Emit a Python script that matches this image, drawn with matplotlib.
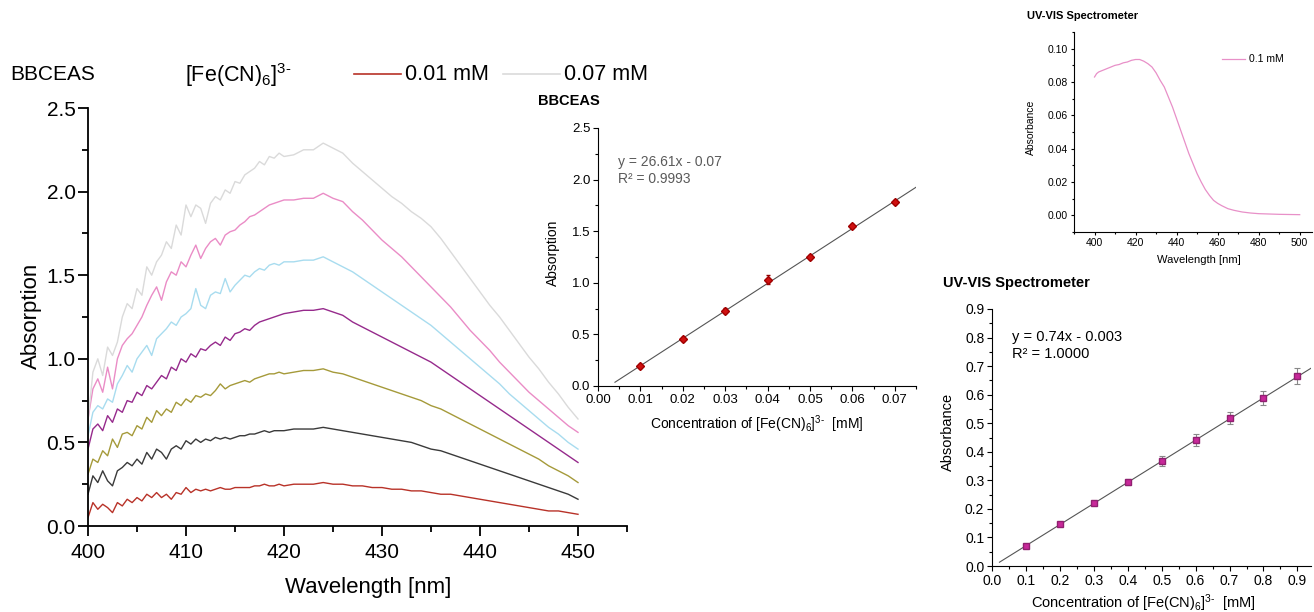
import numpy as np
import matplotlib
matplotlib.use("Agg")
import matplotlib.pyplot as plt
from matplotlib.lines import Line2D
from matplotlib.ticker import MultipleLocator, FormatStrFormatter
from matplotlib.transforms import Bbox

plt.rcParams['font.family'] = ['Liberation Sans', 'DejaVu Sans']
plt.rcParams['mathtext.fontset'] = 'custom'
plt.rcParams['mathtext.rm'] = 'Liberation Sans'
plt.rcParams['mathtext.it'] = 'Liberation Sans:italic'
plt.rcParams['mathtext.bf'] = 'Liberation Sans:bold'

# ---------------- data ----------------
wl_fine = [400.0 + 0.5 * i for i in range(41)]
wl_coarse = [421 + i for i in range(30)]
wavelength = np.array(wl_fine + wl_coarse)

abs_001 = [0.05, 0.14, 0.10, 0.13, 0.11, 0.08, 0.14, 0.12, 0.16, 0.14, 0.17, 0.15, 0.19, 0.17, 0.20, 0.17, 0.19, 0.16, 0.20, 0.19,
           0.23, 0.20, 0.22, 0.21, 0.22, 0.21, 0.22, 0.23, 0.22, 0.22, 0.23, 0.23, 0.23, 0.23, 0.24, 0.24, 0.25, 0.24, 0.24, 0.25, 0.24,
           0.25, 0.25, 0.25, 0.26, 0.25, 0.25, 0.24, 0.24, 0.23, 0.23, 0.22, 0.22, 0.21, 0.21, 0.20, 0.19, 0.19, 0.18, 0.17, 0.16,
           0.15, 0.14, 0.13, 0.12, 0.11, 0.10, 0.09, 0.09, 0.08, 0.07]
abs_002 = [0.19, 0.30, 0.26, 0.33, 0.27, 0.24, 0.33, 0.35, 0.38, 0.36, 0.40, 0.37, 0.44, 0.40, 0.46, 0.44, 0.40, 0.46, 0.48, 0.46,
           0.51, 0.49, 0.52, 0.50, 0.52, 0.51, 0.53, 0.52, 0.53, 0.52, 0.53, 0.54, 0.54, 0.55, 0.55, 0.56, 0.57, 0.56, 0.57, 0.57, 0.57,
           0.58, 0.58, 0.58, 0.59, 0.58, 0.57, 0.56, 0.55, 0.54, 0.53, 0.52, 0.51, 0.50, 0.48, 0.46, 0.45, 0.43, 0.41, 0.39, 0.37,
           0.35, 0.33, 0.31, 0.29, 0.27, 0.25, 0.23, 0.21, 0.19, 0.16]
abs_003 = [0.31, 0.40, 0.38, 0.45, 0.42, 0.52, 0.47, 0.55, 0.56, 0.54, 0.60, 0.58, 0.65, 0.62, 0.69, 0.66, 0.70, 0.68, 0.74, 0.72,
           0.76, 0.74, 0.78, 0.77, 0.79, 0.78, 0.81, 0.85, 0.82, 0.84, 0.85, 0.86, 0.87, 0.86, 0.88, 0.89, 0.90, 0.91, 0.91, 0.92, 0.91,
           0.92, 0.93, 0.93, 0.94, 0.92, 0.91, 0.89, 0.87, 0.85, 0.83, 0.81, 0.79, 0.77, 0.75, 0.72, 0.70, 0.67, 0.64, 0.61, 0.58,
           0.55, 0.52, 0.49, 0.46, 0.43, 0.40, 0.36, 0.33, 0.30, 0.26]
abs_004 = [0.46, 0.58, 0.61, 0.57, 0.66, 0.62, 0.70, 0.68, 0.75, 0.74, 0.80, 0.78, 0.84, 0.82, 0.86, 0.90, 0.88, 0.95, 0.93, 1.00,
           0.98, 1.03, 1.01, 1.06, 1.05, 1.08, 1.10, 1.08, 1.13, 1.11, 1.15, 1.16, 1.18, 1.17, 1.20, 1.22, 1.23, 1.24, 1.25, 1.26, 1.27,
           1.28, 1.29, 1.29, 1.30, 1.28, 1.26, 1.22, 1.19, 1.16, 1.13, 1.10, 1.07, 1.04, 1.01, 0.98, 0.94, 0.90, 0.86, 0.82, 0.78,
           0.74, 0.70, 0.66, 0.62, 0.58, 0.54, 0.50, 0.46, 0.42, 0.38]
abs_005 = [0.54, 0.68, 0.72, 0.70, 0.76, 0.74, 0.85, 0.90, 0.96, 0.92, 1.00, 1.04, 1.08, 1.02, 1.12, 1.15, 1.18, 1.22, 1.20, 1.25,
           1.27, 1.30, 1.42, 1.32, 1.30, 1.38, 1.40, 1.39, 1.48, 1.40, 1.44, 1.47, 1.50, 1.49, 1.52, 1.54, 1.53, 1.56, 1.57, 1.56, 1.58,
           1.58, 1.59, 1.59, 1.61, 1.58, 1.55, 1.52, 1.48, 1.44, 1.40, 1.36, 1.32, 1.28, 1.24, 1.20, 1.15, 1.10, 1.05, 1.00, 0.95,
           0.90, 0.85, 0.79, 0.74, 0.69, 0.64, 0.59, 0.55, 0.50, 0.46]
abs_006 = [0.64, 0.82, 0.88, 0.80, 0.95, 0.82, 1.00, 1.08, 1.12, 1.15, 1.20, 1.25, 1.32, 1.38, 1.43, 1.35, 1.46, 1.52, 1.50, 1.58,
           1.55, 1.62, 1.68, 1.60, 1.66, 1.70, 1.72, 1.68, 1.74, 1.76, 1.77, 1.80, 1.82, 1.85, 1.86, 1.88, 1.90, 1.92, 1.93, 1.94, 1.95,
           1.95, 1.96, 1.96, 1.99, 1.96, 1.94, 1.88, 1.83, 1.77, 1.71, 1.66, 1.61, 1.55, 1.49, 1.43, 1.37, 1.31, 1.24, 1.17, 1.11,
           1.05, 0.98, 0.92, 0.86, 0.80, 0.75, 0.70, 0.65, 0.60, 0.56]
abs_007 = [0.63, 0.92, 1.00, 0.90, 1.07, 1.02, 1.10, 1.25, 1.33, 1.30, 1.42, 1.38, 1.55, 1.50, 1.58, 1.62, 1.70, 1.66, 1.80, 1.74,
           1.92, 1.85, 1.92, 1.90, 1.81, 1.93, 1.97, 1.95, 2.01, 1.99, 2.06, 2.05, 2.10, 2.12, 2.14, 2.18, 2.16, 2.21, 2.20, 2.23, 2.21,
           2.22, 2.25, 2.25, 2.29, 2.26, 2.23, 2.17, 2.12, 2.07, 2.02, 1.97, 1.93, 1.88, 1.84, 1.79, 1.72, 1.64, 1.56, 1.48, 1.40,
           1.32, 1.25, 1.17, 1.09, 1.01, 0.94, 0.86, 0.79, 0.71, 0.64]

series = [abs_001, abs_002, abs_003, abs_004, abs_005, abs_006, abs_007]
series_colors = ['#b83228', '#3a3a3a', '#a59a3a', '#962a8c', '#a8dcef', '#ea8cc6', '#dadada']

bb_conc = [0.01, 0.02, 0.03, 0.04, 0.05, 0.06, 0.07]
bb_abs = [0.194, 0.456, 0.731, 1.029, 1.249, 1.547, 1.783]
bb_err = [0.02, 0.02, 0.02, 0.045, 0.02, 0.02, 0.02]
bb_slope, bb_icpt = 26.61, -0.07
bb_fit_x = [0.004, 0.0755]

uv_wl = [400, 401, 402, 404, 406, 408, 410, 412, 414, 416, 418, 420, 422, 424, 426, 428, 430, 432, 434, 436, 438, 440,
         442, 444, 446, 448, 450, 452, 454, 456, 458, 460, 462, 465, 468, 472, 476, 480, 485, 490, 495, 500]
uv_abs = [0.083, 0.085, 0.086, 0.087, 0.088, 0.089, 0.090, 0.0905, 0.0915, 0.092, 0.093, 0.0935, 0.0935, 0.0925, 0.091,
          0.089, 0.0855, 0.081, 0.077, 0.071, 0.065, 0.058, 0.051, 0.044, 0.037, 0.031, 0.025, 0.020, 0.0155, 0.012, 0.009,
          0.0072, 0.0058, 0.004, 0.003, 0.002, 0.0014, 0.001, 0.0008, 0.0006, 0.0005, 0.0004]

uv_conc = [0.1, 0.2, 0.3, 0.4, 0.5, 0.6, 0.7, 0.8, 0.9]
uv_absb = [0.071, 0.146, 0.219, 0.294, 0.367, 0.441, 0.517, 0.588, 0.665]
uv_err = [0.0025, 0.0035, 0.006, 0.0105, 0.0175, 0.02, 0.021, 0.0245, 0.027]
uv_slope, uv_icpt = 0.74, -0.003
uv_fit_x = [0.022, 0.94]

# ---------------- figure ----------------
W, H = 1314, 612
fig = plt.figure(figsize=(W / 100, H / 100), dpi=100)


def rect(l, t, r, b):
    return [l / W, 1 - b / H, (r - l) / W, (b - t) / H]


def fx(x):
    return x / W


def fy(y):
    return 1 - y / H


def style(ax, size, major, minor, width=1.0):
    for s in ['top', 'right']:
        ax.spines[s].set_visible(False)
    for s in ['left', 'bottom']:
        ax.spines[s].set_linewidth(width)
    ax.tick_params(which='major', direction='out', length=major, width=width, labelsize=size, pad=2)
    ax.tick_params(which='minor', direction='out', length=minor, width=width)


# main spectra panel
ax = fig.add_axes(rect(88, 108, 627, 526))
for y, c in zip(series, series_colors):
    ax.plot(wavelength, y, color=c, lw=1.0)
ax.set_xlim(400, 455)
ax.set_ylim(0, 2.5)
ax.xaxis.set_major_locator(MultipleLocator(10))
ax.xaxis.set_minor_locator(MultipleLocator(5))
ax.yaxis.set_major_locator(MultipleLocator(0.5))
ax.yaxis.set_minor_locator(MultipleLocator(0.25))
ax.yaxis.set_major_formatter(FormatStrFormatter('%.1f'))
style(ax, 15, 7, 4, 1.3)
ax.tick_params(axis='x', pad=5)
fig.text(fx(368), fy(587), 'Wavelength [nm]', fontsize=16, ha='center', va='center')
fig.text(fx(31), fy(316), 'Absorption', fontsize=16, ha='center', va='center', rotation=90)

# header / legend
fig.text(fx(10), fy(75), 'BBCEAS', fontsize=15, ha='left', va='center')
fig.text(fx(185), fy(75), r'[Fe(CN)$_6$]$^{3\text{-}}$', fontsize=15.5, ha='left', va='center')
fig.add_artist(Line2D([fx(354), fx(401)], [fy(74), fy(74)], color=series_colors[0], lw=1.2))
fig.text(fx(405), fy(75), '0.01 mM', fontsize=15.5, ha='left', va='center')
fig.add_artist(Line2D([fx(503), fx(560)], [fy(74), fy(74)], color=series_colors[-1], lw=1.2))
t = fig.text(fx(564), fy(75), '0.07 mM', fontsize=15.5, ha='left', va='center')
t.set_clip_box(Bbox([[0, 0], [650, H]]))
t.set_clip_on(True)

# BBCEAS calibration inset
ax2 = fig.add_axes(rect(598, 128, 916, 386))
ax2.plot(bb_fit_x, [bb_slope * v + bb_icpt for v in bb_fit_x], color='#555555', lw=0.8)
ax2.errorbar(bb_conc, bb_abs, yerr=bb_err, fmt='D', color='#d01010', ms=4.5, mec='#a00000',
             ecolor='#900000', elinewidth=0.8, capsize=1.5)
ax2.set_xlim(0, 0.075)
ax2.set_ylim(0, 2.5)
ax2.xaxis.set_major_locator(MultipleLocator(0.01))
ax2.xaxis.set_minor_locator(MultipleLocator(0.005))
ax2.yaxis.set_major_locator(MultipleLocator(0.5))
ax2.yaxis.set_minor_locator(MultipleLocator(0.25))
ax2.xaxis.set_major_formatter(FormatStrFormatter('%.2f'))
ax2.yaxis.set_major_formatter(FormatStrFormatter('%.1f'))
style(ax2, 9.5, 3.5, 2, 0.8)
fig.text(fx(538), fy(101), 'BBCEAS', fontsize=10.5, fontweight='bold', ha='left', va='center')
fig.text(fx(618), fy(162), 'y = 26.61x - 0.07', fontsize=10, color='#5a5a5a', ha='left', va='center')
fig.text(fx(618), fy(179), 'R² = 0.9993', fontsize=10, color='#5a5a5a', ha='left', va='center')
fig.text(fx(553), fy(253), 'Absorption', fontsize=10, ha='center', va='center', rotation=90)
fig.text(fx(757), fy(424), r'Concentration of [Fe(CN)$_6$]$^{3\text{-}}$  [mM]', fontsize=10, ha='center', va='center')

# UV-VIS spectrum
ax3 = fig.add_axes(rect(1074, 32, 1312, 232))
ax3.plot(uv_wl, uv_abs, color='#e890c8', lw=0.9)
ax3.set_xlim(390, 506)
ax3.set_ylim(-0.01, 0.11)
ax3.xaxis.set_major_locator(MultipleLocator(20))
ax3.xaxis.set_minor_locator(MultipleLocator(10))
ax3.yaxis.set_major_locator(MultipleLocator(0.02))
ax3.yaxis.set_minor_locator(MultipleLocator(0.01))
ax3.yaxis.set_major_formatter(FormatStrFormatter('%.2f'))
style(ax3, 7.5, 2.5, 1.5, 0.8)
fig.add_artist(Line2D([fx(1222), fx(1245)], [fy(59), fy(59)], color='#e890c8', lw=0.9))
fig.text(fx(1249), fy(59), '0.1 mM', fontsize=7.5, ha='left', va='center')
fig.text(fx(1027), fy(16), 'UV-VIS Spectrometer', fontsize=8, fontweight='bold', ha='left', va='center')
fig.text(fx(1031), fy(127), 'Absorbance', fontsize=7.5, ha='center', va='center', rotation=90)
fig.text(fx(1199), fy(260), 'Wavelength [nm]', fontsize=8, ha='center', va='center')

# UV-VIS calibration
ax4 = fig.add_axes(rect(992, 309, 1311, 566))
ax4.plot(uv_fit_x, [uv_slope * v + uv_icpt for v in uv_fit_x], color='#555555', lw=0.8)
ax4.errorbar(uv_conc, uv_absb, yerr=uv_err, fmt='s', color='#c8289a', ms=4, mec='#902070',
             ecolor='#888888', elinewidth=0.8, capsize=2.5, capthick=0.8)
ax4.set_xlim(0, 0.94)
ax4.set_ylim(0, 0.9)
ax4.xaxis.set_major_locator(MultipleLocator(0.1))
ax4.xaxis.set_minor_locator(MultipleLocator(0.05))
ax4.yaxis.set_major_locator(MultipleLocator(0.1))
ax4.yaxis.set_minor_locator(MultipleLocator(0.05))
ax4.xaxis.set_major_formatter(FormatStrFormatter('%.1f'))
ax4.yaxis.set_major_formatter(FormatStrFormatter('%.1f'))
style(ax4, 10, 3.5, 2, 0.8)
fig.text(fx(943), fy(283), 'UV-VIS Spectrometer', fontsize=10.5, fontweight='bold', ha='left', va='center')
fig.text(fx(1012), fy(337), 'y = 0.74x - 0.003', fontsize=10.5, ha='left', va='center')
fig.text(fx(1012), fy(354), 'R² = 1.0000', fontsize=10.5, ha='left', va='center')
fig.text(fx(948), fy(432), 'Absorbance', fontsize=10.5, ha='center', va='center', rotation=90)
fig.text(fx(1143), fy(603), r'Concentration of [Fe(CN)$_6$]$^{3\text{-}}$  [mM]', fontsize=10.5, ha='center', va='center')

fig.savefig('out.png', dpi=100)
